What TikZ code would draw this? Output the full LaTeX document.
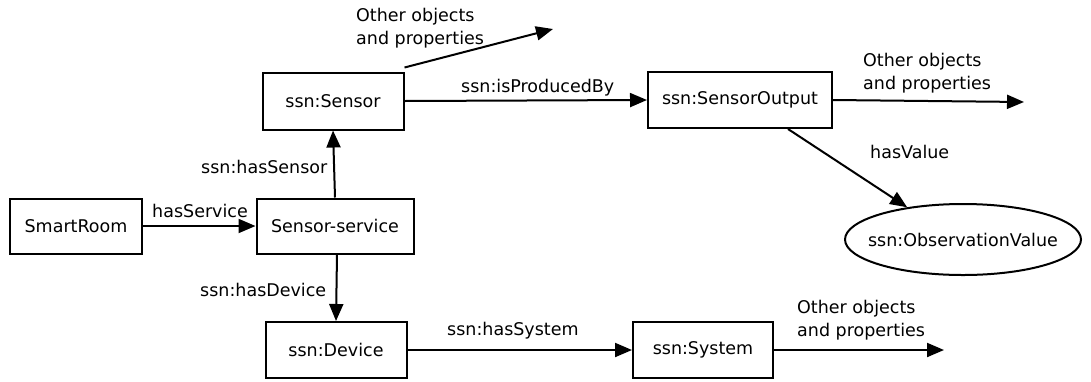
\documentclass[tikz,border=0pt]{standalone}
\usepackage{fontspec}
\setmainfont{DejaVu Sans}
\usetikzlibrary{arrows.meta,shapes.geometric}
\begin{document}
\begin{tikzpicture}[x=1pt,y=-1pt,
  every node/.style={font=\fontsize{17.5}{23}\selectfont, inner sep=0pt},
  box/.style={draw, line width=2pt, rectangle},
  oval/.style={draw, line width=2pt, ellipse},
  conn/.style={line width=2pt, -{Triangle[length=17pt,width=14pt]}},
  lbl/.style={anchor=base west},
  multi/.style={align=left, anchor=base west}]
\useasboundingbox (0,0) rectangle (1091,381);
% nodes
\node[box, minimum width=132pt, minimum height=55pt] (room) at (76,226) {SmartRoom};
\node[box, minimum width=157pt, minimum height=55pt] (ss) at (335,226) {Sensor-service};
\node[box, minimum width=141pt, minimum height=57pt] (sensor) at (333,101) {ssn:Sensor};
\node[box, minimum width=141pt, minimum height=56pt] (device) at (336,350) {ssn:Device};
\node[box, minimum width=140pt, minimum height=56pt] (system) at (703,350) {ssn:System};
\node[box, minimum width=184pt, minimum height=56pt] (so) at (740,100) {ssn:SensorOutput};
\node[oval, minimum width=236pt, minimum height=71pt,
      label={[name=ovtext]center:ssn:ObservationValue}] (ov) at (963,239.5) {};
% free ends
\coordinate (e1) at (553,29);
\coordinate (e2) at (1024,102);
\coordinate (e3) at (944,350);
% connectors
\draw[conn] (room.east) -- (ss.west);
\draw[conn] (ss.north) -- (sensor.south);
\draw[conn] ([xshift=2pt]ss.south) -- (device.north);
\draw[conn] (device.east) -- (system.west);
\draw[conn] (system.east) -- (e3);
\draw[conn] (sensor.east) -- (so.west);
\draw[conn] (so.east) -- (e2);
\draw[conn] ([yshift=4pt]sensor.north east) -- (e1);
\draw[conn] ([xshift=48pt]so.south) -- (ov.150);
% labels
\node[lbl] (l1) at (152,217) {hasService};
\node[lbl] (l2) at (201,173) {ssn:hasSensor};
\node[lbl] (l3) at (200,296) {ssn:hasDevice};
\node[lbl] (l4) at (461,92) {ssn:isProducedBy};
\node[lbl] (l5) at (447,335) {ssn:hasSystem};
\node[lbl] (l6) at (870,158) {hasValue};
\node[multi] (o1) at (356,44) {Other objects\\and properties};
\node[multi] (o2) at (863,89) {Other objects\\and properties};
\node[multi] (o3) at (797,336) {Other objects\\and properties};
\end{tikzpicture}
\end{document}
